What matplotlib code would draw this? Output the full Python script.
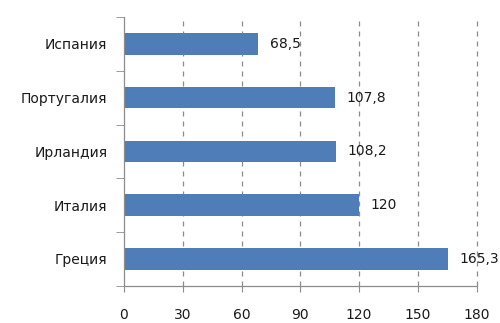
import numpy as np
import matplotlib.pyplot as plt
from matplotlib.ticker import FixedLocator

countries = ['Греция', 'Италия', 'Ирландия', 'Португалия', 'Испания']
debt = [165.3, 120, 108.2, 107.8, 68.5]
labels = ['165,3', '120', '108,2', '107,8', '68,5']
xticks = [0, 30, 60, 90, 120, 150, 180]

plt.rcParams['font.family'] = ['DejaVu Sans']
grey = '#8c8c8c'

fig = plt.figure(figsize=(5, 3.23), dpi=100)
ax = fig.add_axes([0.248, 0.115, 0.705, 0.832])

y = np.arange(len(countries))
ax.barh(y, debt, height=0.4, color='#4f7db8', zorder=2)

for yi, v, t in zip(y, debt, labels):
    ax.text(v + 6, yi, t, va='center', ha='left', fontsize=10, color='#1a1a1a', zorder=3)

ax.set_xlim(0, 180)
ax.set_ylim(-0.5, len(countries) - 0.5)
ax.set_xticks(xticks)
ax.set_xticklabels([str(v) for v in xticks], fontsize=10)
ax.set_yticks(y)
ax.set_yticklabels(countries, fontsize=10)
ax.yaxis.set_minor_locator(FixedLocator(np.arange(-0.5, len(countries), 1)))

ax.grid(axis='x', linestyle=(0, (4, 4)), color=grey, linewidth=0.9, zorder=0)
for gl in ax.get_xgridlines():
    gl.set_clip_on(False)
ax.get_xgridlines()[0].set_visible(False)
for s in ['top', 'right']:
    ax.spines[s].set_visible(False)
for s in ['left', 'bottom']:
    ax.spines[s].set_color(grey)
    ax.spines[s].set_linewidth(0.9)

ax.tick_params(axis='x', length=4, color=grey, pad=12, labelcolor='#1a1a1a')
ax.tick_params(axis='y', which='major', length=0, pad=12, labelcolor='#1a1a1a')
ax.tick_params(axis='y', which='minor', length=6, color=grey)

fig.savefig('out.png', dpi=100)
